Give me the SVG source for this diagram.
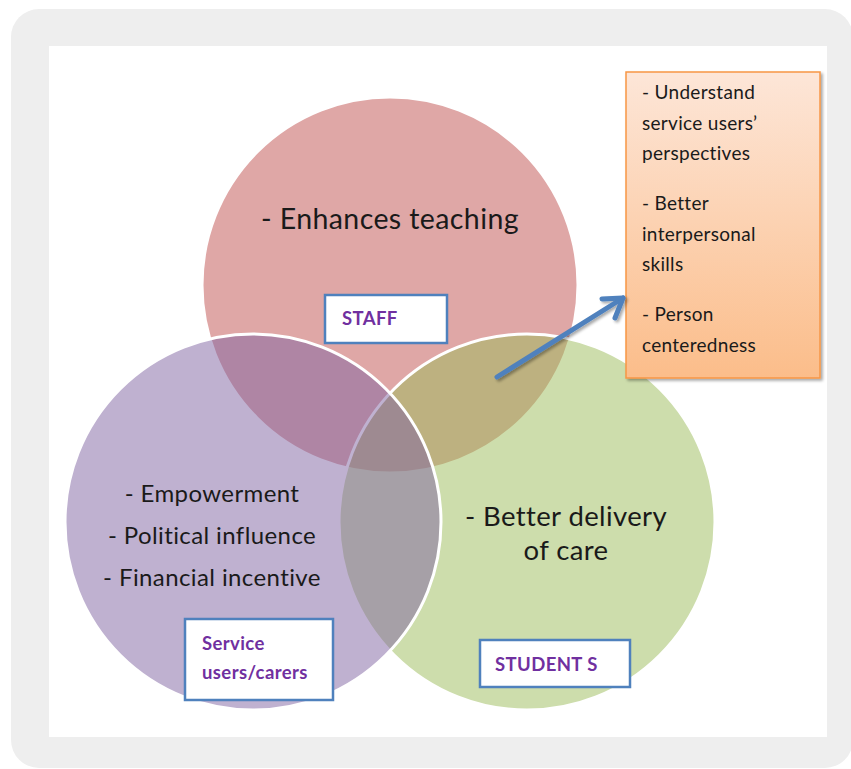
<svg xmlns="http://www.w3.org/2000/svg" width="851" height="769" viewBox="0 0 851 769">
  <defs>
    <style>
      .venn { stroke: #ffffff; stroke-width: 3; fill-opacity: 0.5; }
      .big { font-family: Lato, "Open Sans", "Liberation Sans", sans-serif; fill: #1a1a1a; letter-spacing: 0.4px; }
      .tag-box { fill: #ffffff; stroke: #4f81bd; stroke-width: 2.5; }
      .tag { font-family: Lato, "Open Sans", "Liberation Sans", sans-serif; font-weight: bold; font-size: 18.5px; letter-spacing: 0.4px; fill: #7030a0; }
      .note { font-family: Lato, "Open Sans", "Liberation Sans", sans-serif; font-size: 19px; letter-spacing: 0.3px; fill: #1a1a1a; }
    </style>
    <linearGradient id="peach" x1="0" y1="0" x2="0" y2="1">
      <stop offset="0" stop-color="#fde6d8"/>
      <stop offset="1" stop-color="#fbbd8a"/>
    </linearGradient>
    <filter id="shadow" x="-20%" y="-20%" width="140%" height="140%">
      <feGaussianBlur in="SourceAlpha" stdDeviation="1.5"/>
      <feOffset dx="2" dy="2" result="b"/>
      <feComponentTransfer><feFuncA type="linear" slope="0.35"/></feComponentTransfer>
      <feMerge><feMergeNode/><feMergeNode in="SourceGraphic"/></feMerge>
    </filter>
  </defs>

  <!-- frame -->
  <rect x="11" y="9" width="842" height="759" rx="28" fill="#eeeeee"/>
  <rect x="49" y="46" width="778" height="691" fill="#ffffff"/>

  <!-- Venn circles: staff, students, service users -->
  <g id="circle-staff">
    <circle class="venn" cx="390" cy="285" r="188" fill="#c0504d"/>
  </g>
  <g id="circle-students">
    <circle class="venn" cx="527" cy="522" r="188" fill="#9bbb59"/>
  </g>
  <g id="circle-service-users">
    <circle class="venn" cx="253" cy="522" r="188" fill="#8064a2"/>
  </g>

  <!-- circle texts -->
  <g id="text-staff">
    <text class="big" x="390" y="229" font-size="28.5" text-anchor="middle">- Enhances teaching</text>
  </g>
  <g id="text-service-users">
    <text class="big" x="212" y="502" font-size="24" text-anchor="middle">- Empowerment</text>
    <text class="big" x="212" y="544" font-size="24" text-anchor="middle">- Political influence</text>
    <text class="big" x="212" y="586" font-size="24" text-anchor="middle">- Financial incentive</text>
  </g>
  <g id="text-students">
    <text class="big" x="566" y="526" font-size="27.5" text-anchor="middle">- Better delivery</text>
    <text class="big" x="566" y="560" font-size="27.5" text-anchor="middle">of care</text>
  </g>

  <!-- label boxes -->
  <g id="label-staff">
    <rect class="tag-box" x="325" y="295" width="122" height="48"/>
    <text class="tag" x="342" y="325">STAFF</text>
  </g>
  <g id="label-service-users">
    <rect class="tag-box" x="185" y="619" width="148" height="81"/>
    <text class="tag" x="202" y="650">Service</text>
    <text class="tag" x="202" y="679">users/carers</text>
  </g>
  <g id="label-students">
    <rect class="tag-box" x="480" y="640" width="150" height="47"/>
    <text class="tag" x="495" y="671">STUDENT S</text>
  </g>

  <!-- student outcomes callout -->
  <g id="outcomes">
    <rect x="626" y="72" width="194" height="306" fill="url(#peach)" stroke="#f79646" stroke-width="1.5" filter="url(#shadow)"/>
    <text class="note" x="642" y="99">- Understand</text>
    <text class="note" x="642" y="130">service users’</text>
    <text class="note" x="642" y="160">perspectives</text>
    <text class="note" x="642" y="210">- Better</text>
    <text class="note" x="642" y="241">interpersonal</text>
    <text class="note" x="642" y="271">skills</text>
    <text class="note" x="642" y="321">- Person</text>
    <text class="note" x="642" y="352">centeredness</text>
  </g>

  <!-- connectors -->
  <g id="connectors" fill="none" stroke="#4f81bd" stroke-width="5" stroke-linecap="round" stroke-linejoin="round" filter="url(#shadow)">
    <path d="M497,377 L623,298"/>
    <path d="M602,299 L623,298 L615,318"/>
  </g>
</svg>
